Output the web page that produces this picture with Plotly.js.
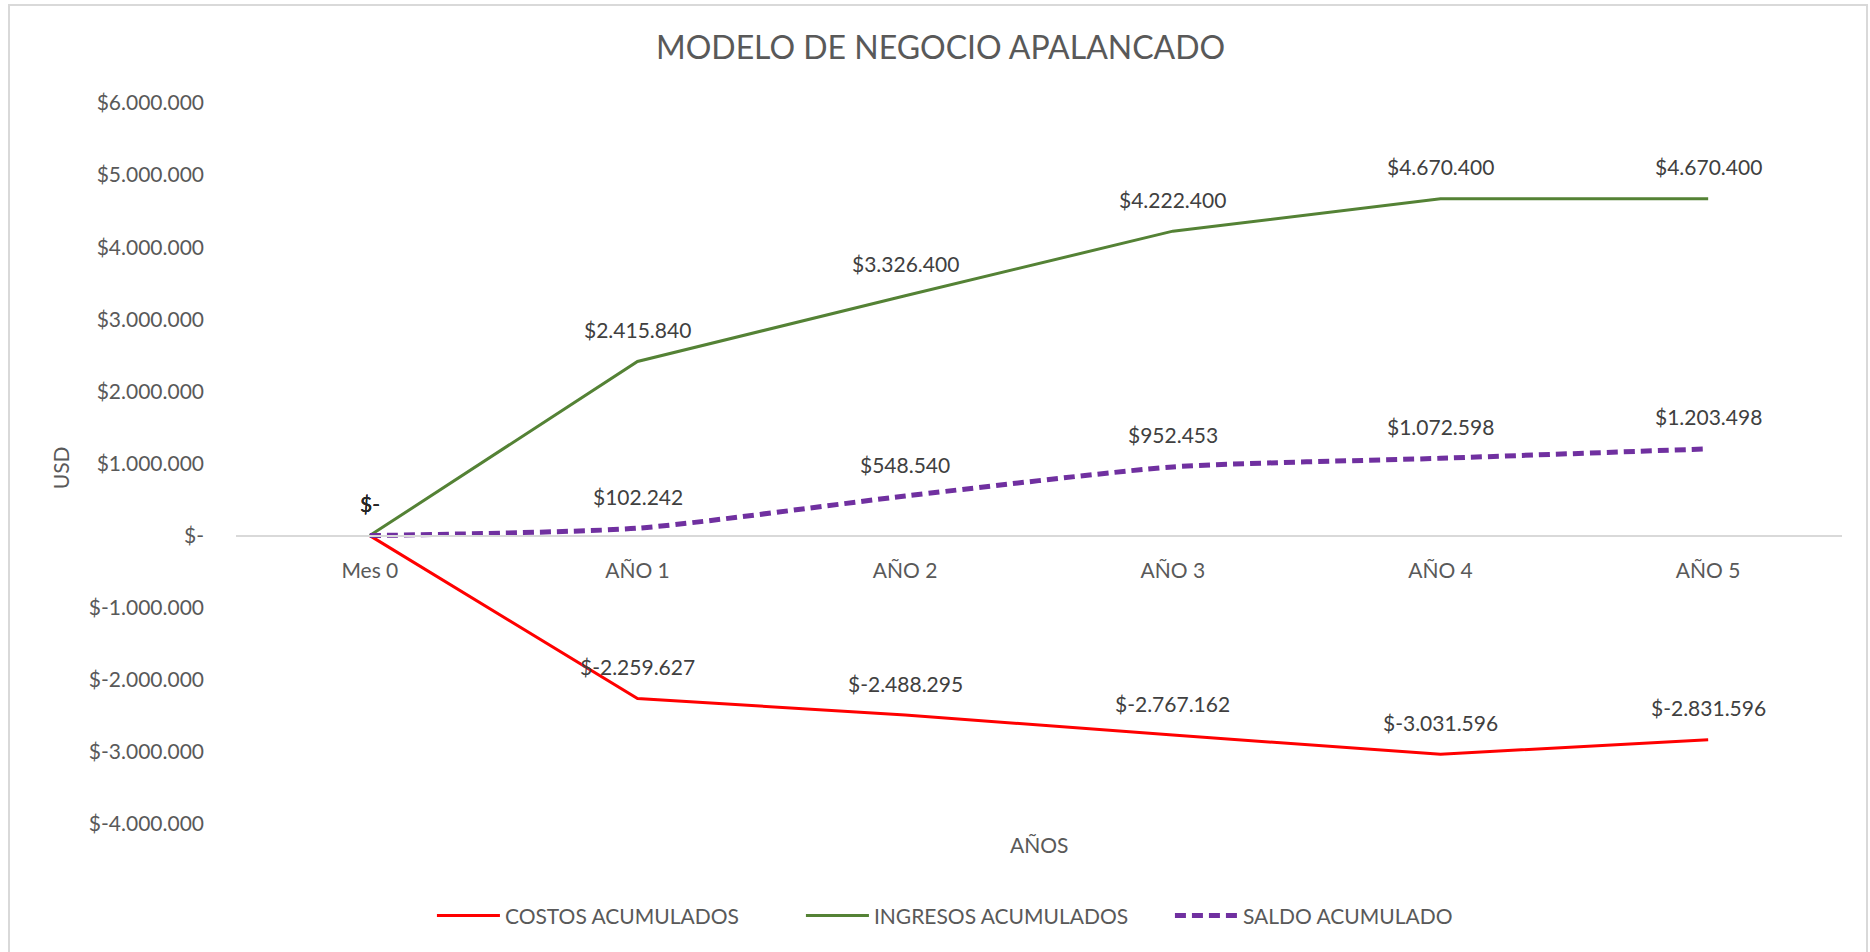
<!DOCTYPE html>
<html>
<head>
<meta charset="utf-8">
<script src="https://cdn.plot.ly/plotly-3.0.1.min.js"></script>
<style>
html,body{margin:0;padding:0;background:#fff;}
#wrap{position:relative;width:1870px;height:952px;overflow:hidden;}
#chart{position:absolute;left:0;top:0;width:1870px;height:952px;}
#frame{position:absolute;left:8px;top:4px;width:1860px;height:960px;border:2px solid #d9d9d9;box-sizing:border-box;pointer-events:none;}
</style>
</head>
<body>
<div id="wrap"><div id="chart"></div><div id="frame"></div></div>
<script>
const categories = ["Mes 0", "AÑO 1", "AÑO 2", "AÑO 3", "AÑO 4", "AÑO 5"];
const costos = [0, -2259627, -2488295, -2767162, -3031596, -2831596];
const ingresos = [0, 2415840, 3326400, 4222400, 4670400, 4670400];
const saldo = [0, 102242, 548540, 952453, 1072598, 1203498];
const seriesNames = ["COSTOS ACUMULADOS", "INGRESOS ACUMULADOS", "SALDO ACUMULADO"];
const yTickVals = [6000000, 5000000, 4000000, 3000000, 2000000, 1000000, 0, -1000000, -2000000, -3000000, -4000000];

function fmt(v) {
  if (v === 0) return "$-";
  const neg = v < 0;
  const s = Math.round(Math.abs(v)).toString().replace(/\B(?=(\d{3})+(?!\d))/g, ".");
  return "$" + (neg ? "-" : "") + s;
}
const yTickText = yTickVals.map(fmt);

const FONT = "Lato, 'Open Sans', sans-serif";
const GRAY = "#595959";

const traces = [
  {x: categories, y: costos, name: seriesNames[0], type: "scatter", mode: "lines",
   line: {color: "#ff0000", width: 3}},
  {x: categories, y: ingresos, name: seriesNames[1], type: "scatter", mode: "lines",
   line: {color: "#548235", width: 3}},
  {x: categories, y: saldo, name: seriesNames[2], type: "scatter", mode: "lines",
   line: {color: "#7030a0", width: 5, dash: "11px,6px", shape: "spline", smoothing: 0.6}}
];

const annotations = [];
[costos, ingresos, saldo].forEach(arr => {
  arr.forEach((v, i) => {
    annotations.push({x: categories[i], y: v, xref: "x", yref: "y", text: fmt(v),
      showarrow: false, yshift: 32, font: {family: FONT, size: 21, color: v === 0 ? "#262626" : "#404040"}});
  });
});
annotations.push({x: 0.5, y: -0.028, xref: "paper", yref: "paper", text: "AÑOS", showarrow: false,
  yanchor: "middle", font: {family: FONT, size: 21, color: GRAY}});
annotations.push({x: -0.1096, y: 0.4948, xref: "paper", yref: "paper", text: "USD", showarrow: false,
  textangle: -90, xanchor: "center", yanchor: "middle", font: {family: FONT, size: 21, color: GRAY}});

const layout = {
  width: 1870, height: 952,
  margin: {l: 236, r: 28, t: 103, b: 128},
  paper_bgcolor: "#ffffff", plot_bgcolor: "#ffffff",
  font: {family: FONT, size: 21, color: GRAY},
  title: {text: "MODELO DE NEGOCIO APALANCADO", x: 0.503, xanchor: "center", y: 0.95, yanchor: "middle",
    font: {family: FONT, size: 32, color: GRAY}},
  showlegend: true,
  legend: {orientation: "h", x: 0.122, xanchor: "left", y: -0.1275, yanchor: "middle",
    font: {family: FONT, size: 21, color: GRAY}, itemwidth: 63, traceorder: "normal",
    entrywidth: 291, entrywidthmode: "pixels"},
  xaxis: {type: "category", range: [-0.5, 5.5], anchor: "free", position: 0.4,
    showgrid: false, zeroline: false, showline: true, linecolor: "#d9d9d9", linewidth: 2,
    ticks: "", ticklabelstandoff: 16, tickfont: {family: FONT, size: 21, color: GRAY}, fixedrange: true},
  yaxis: {range: [-4000000, 6000000], tickvals: yTickVals, ticktext: yTickText,
    showgrid: false, zeroline: false, showline: false, ticks: "", ticklabelstandoff: 31,
    tickfont: {family: FONT, size: 21, color: GRAY}, fixedrange: true},
  annotations: annotations
};

Plotly.newPlot("chart", traces, layout, {displayModeBar: false, staticPlot: true});
</script>
</body>
</html>
